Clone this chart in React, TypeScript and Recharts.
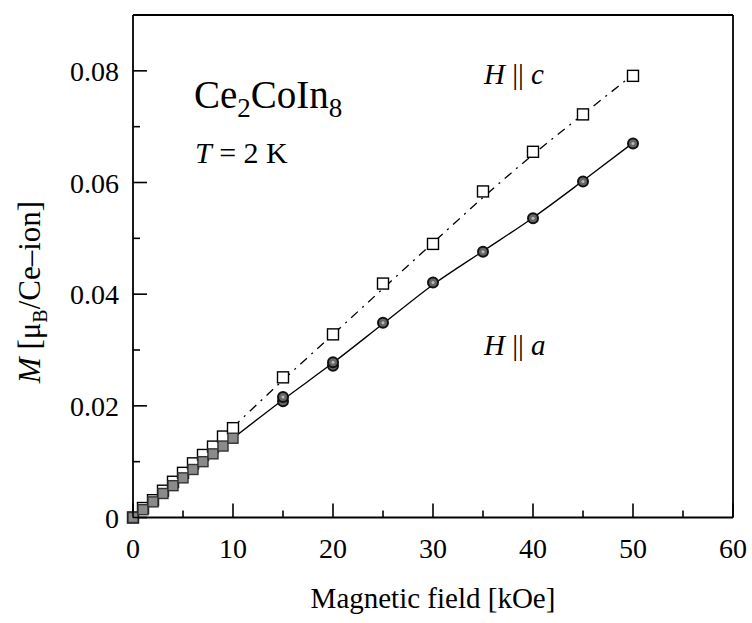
import React from 'react';
import { ComposedChart, XAxis, YAxis, Scatter, Line, Customized } from 'recharts';

// ---- data ----
const fieldC = [0, 1, 2, 3, 4, 5, 6, 7, 8, 9, 10, 15, 20, 25, 30, 35, 40, 45, 50];
const momentC = [0, 0.0017, 0.0031, 0.0048, 0.0064, 0.008, 0.0097, 0.0112, 0.0127, 0.0145, 0.016, 0.0251, 0.0328, 0.0419, 0.049, 0.0584, 0.0655, 0.0722, 0.0791];
const fieldA = [0, 1, 2, 3, 4, 5, 6, 7, 8, 9, 10, 15, 15, 20, 20, 25, 30, 35, 40, 45, 50];
const momentA = [0, 0.0014, 0.0028, 0.0043, 0.0057, 0.0071, 0.0086, 0.01, 0.0114, 0.0128, 0.0142, 0.0208, 0.0216, 0.0272, 0.0278, 0.0349, 0.0421, 0.0476, 0.0536, 0.0602, 0.067];
const fitField = [10, 15, 20, 25, 30, 35, 40, 45, 50];
const fitA = [0.0142, 0.0211, 0.0277, 0.0347, 0.0417, 0.0477, 0.0537, 0.0603, 0.0671];
const fitC = [0.0162, 0.0246, 0.0328, 0.041, 0.0492, 0.0573, 0.065, 0.0722, 0.0793];
const xTicks = [0, 5, 10, 15, 20, 25, 30, 35, 40, 45, 50, 55, 60];
const yTicks = [0, 0.01, 0.02, 0.03, 0.04, 0.05, 0.06, 0.07, 0.08, 0.09];
const yLabels = ['0', '', '0.02', '', '0.04', '', '0.06', '', '0.08', ''];

const dataC = fieldC.map((x, i) => ({ x, y: momentC[i] }));
const dataA = fieldA.map((x, i) => ({ x, y: momentA[i] }));
const lineA = fitField.map((x, i) => ({ x, y: fitA[i] }));
const lineC = fitField.map((x, i) => ({ x, y: fitC[i] }));

const FONT = '"Liberation Serif", "Times New Roman", serif';
const TICK_FS = 28;
const MAJ = 14;
const MIN = 7;

const isMajorX = (v: number) => v % 10 === 0;
const yIndex = (v: number) => yTicks.findIndex((t) => Math.abs(t - v) < 1e-9);

const BottomTick = (p: any) => {
  const v = p.payload.value;
  const maj = isMajorX(v);
  return (
    <g>
      <line x1={p.x} x2={p.x} y1={p.y} y2={p.y - (maj ? MAJ : MIN)} stroke="#000" strokeWidth={1.6} />
      {maj && (
        <text x={p.x} y={p.y + 40} textAnchor="middle" fontFamily={FONT} fontSize={TICK_FS} fill="#000">
          {v}
        </text>
      )}
    </g>
  );
};
const TopTick = (p: any) => {
  const v = p.payload.value;
  const maj = isMajorX(v);
  return <line x1={p.x} x2={p.x} y1={p.y} y2={p.y + (maj ? MAJ : MIN)} stroke="#000" strokeWidth={1.6} />;
};
const LeftTick = (p: any) => {
  const i = yIndex(p.payload.value);
  const maj = i % 2 === 0;
  return (
    <g>
      <line x1={p.x} x2={p.x + (maj ? MAJ : MIN)} y1={p.y} y2={p.y} stroke="#000" strokeWidth={1.6} />
      {yLabels[i] && (
        <text x={p.x - 14} y={p.y + 10} textAnchor="end" fontFamily={FONT} fontSize={TICK_FS} fill="#000">
          {yLabels[i]}
        </text>
      )}
    </g>
  );
};
const RightTick = (p: any) => {
  const i = yIndex(p.payload.value);
  const maj = i % 2 === 0;
  return <line x1={p.x} x2={p.x - (maj ? MAJ : MIN)} y1={p.y} y2={p.y} stroke="#000" strokeWidth={1.6} />;
};

const SquareOpen = (p: any) => {
  if (p.cx == null || p.cy == null) return null;
  const s = 11;
  return <rect x={p.cx - s / 2} y={p.cy - s / 2} width={s} height={s} fill="#fff" stroke="#000" strokeWidth={1.4} />;
};
const MarkerA = (p: any) => {
  if (p.cx == null || p.cy == null) return null;
  const x = p.payload?.x ?? 0;
  if (x <= 10) {
    const s = 10;
    return <rect x={p.cx - s / 2} y={p.cy - s / 2} width={s} height={s} fill="#8a8a8a" stroke="#333" strokeWidth={1.4} />;
  }
  return (
    <g>
      <circle cx={p.cx} cy={p.cy} r={5} fill="#666" stroke="#111" strokeWidth={2} />
      <circle cx={p.cx} cy={p.cy} r={1.5} fill="#bbb" />
    </g>
  );
};

const Annotations = () => (
  <g fontFamily={FONT} fill="#000">
    <text x={194} y={108} fontSize={39}>
      Ce<tspan dy={9} fontSize={27}>2</tspan>
      <tspan dy={-9}>CoIn</tspan>
      <tspan dy={9} fontSize={27}>8</tspan>
    </text>
    <text x={195} y={163} fontSize={30}>
      <tspan fontStyle="italic">T</tspan> = 2 K
    </text>
    <text x={484} y={84} fontSize={29}>
      <tspan fontStyle="italic">H</tspan> || <tspan fontStyle="italic">c</tspan>
    </text>
    <text x={484} y={355} fontSize={29}>
      <tspan fontStyle="italic">H</tspan> || <tspan fontStyle="italic">a</tspan>
    </text>
    <text x={433} y={608} fontSize={29} textAnchor="middle">
      Magnetic field [kOe]
    </text>
    <text x={0} y={0} fontSize={31} textAnchor="middle" transform="translate(40 292) rotate(-90)">
      <tspan fontStyle="italic">M</tspan> [μ<tspan dy={7} fontSize={20}>B</tspan>
      <tspan dy={-7}>/Ce–ion]</tspan>
    </text>
  </g>
);

export default function App() {
  return (
    <div style={{ position: 'absolute', left: 0, top: 0, width: 752, height: 623, background: '#fff' }}>
      <ComposedChart width={752} height={623} margin={{ top: 14, right: 18, bottom: 104.5, left: 132 }}>
        <XAxis
          xAxisId="b"
          type="number"
          dataKey="x"
          domain={[0, 60]}
          ticks={xTicks}
          height={1}
          tickSize={0}
          tickMargin={0}
          tickLine={false}
          axisLine={{ stroke: '#000', strokeWidth: 1.8 }}
          tick={<BottomTick />}
          interval={0}
        />
        <XAxis
          xAxisId="t"
          orientation="top"
          type="number"
          dataKey="x"
          domain={[0, 60]}
          ticks={xTicks}
          height={1}
          tickSize={0}
          tickMargin={0}
          tickLine={false}
          axisLine={{ stroke: '#000', strokeWidth: 1.8 }}
          tick={<TopTick />}
          interval={0}
        />
        <YAxis
          yAxisId="l"
          type="number"
          dataKey="y"
          domain={[0, 0.09]}
          ticks={yTicks}
          width={1}
          tickSize={0}
          tickMargin={0}
          tickLine={false}
          axisLine={{ stroke: '#000', strokeWidth: 1.8 }}
          tick={<LeftTick />}
          interval={0}
        />
        <YAxis
          yAxisId="r"
          orientation="right"
          type="number"
          dataKey="y"
          domain={[0, 0.09]}
          ticks={yTicks}
          width={1}
          tickSize={0}
          tickMargin={0}
          tickLine={false}
          axisLine={{ stroke: '#000', strokeWidth: 1.8 }}
          tick={<RightTick />}
          interval={0}
        />
        <Line
          xAxisId="b"
          yAxisId="l"
          data={lineC}
          dataKey="y"
          type="monotone"
          stroke="#000"
          strokeWidth={1.3}
          strokeDasharray="9 6 2 6"
          dot={false}
          activeDot={false}
          isAnimationActive={false}
        />
        <Line
          xAxisId="b"
          yAxisId="l"
          data={lineA}
          dataKey="y"
          type="monotone"
          stroke="#000"
          strokeWidth={1.3}
          dot={false}
          activeDot={false}
          isAnimationActive={false}
        />
        <Scatter xAxisId="b" yAxisId="l" data={dataC} dataKey="y" shape={<SquareOpen />} isAnimationActive={false} />
        <Scatter xAxisId="b" yAxisId="l" data={dataA} dataKey="y" shape={<MarkerA />} isAnimationActive={false} />
        <Customized component={<Annotations />} />
      </ComposedChart>
    </div>
  );
}
